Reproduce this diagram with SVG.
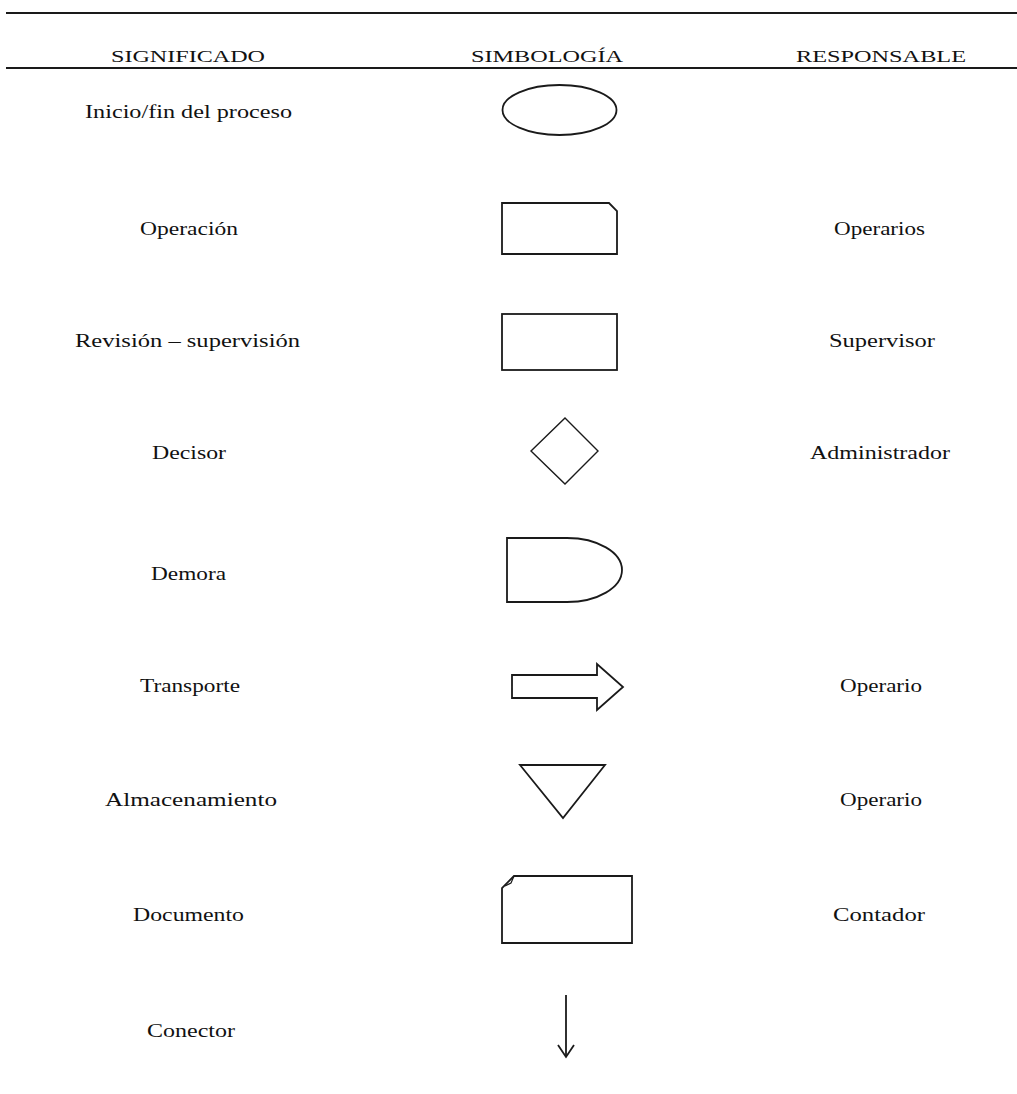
<svg xmlns="http://www.w3.org/2000/svg" width="1017" height="1094" viewBox="0 0 1017 1094">
<style>
.t{font-family:"Liberation Serif","Times New Roman",serif;font-size:18px;fill:#111}
.h{font-family:"Liberation Serif","Times New Roman",serif;font-size:17px;fill:#111}
.s{fill:none;stroke:#1a1a1a;stroke-width:1.8;stroke-linejoin:miter}
.r{stroke:#1a1a1a;stroke-width:2}
</style>
<rect width="1017" height="1094" fill="#fff"/>
<g id="rules">
<line class="r" x1="6" y1="13" x2="1017" y2="13"/>
<line class="r" x1="6" y1="68" x2="1017" y2="68"/>
</g>
<g id="headers">
<text class="h" x="111" y="62" textLength="154" lengthAdjust="spacingAndGlyphs">SIGNIFICADO</text>
<text class="h" x="471" y="62" textLength="152" lengthAdjust="spacingAndGlyphs">SIMBOLOGÍA</text>
<text class="h" x="796" y="62" textLength="170" lengthAdjust="spacingAndGlyphs">RESPONSABLE</text>
</g>
<g id="row-inicio">
<text class="t" x="85" y="118" textLength="207" lengthAdjust="spacingAndGlyphs">Inicio/fin del proceso</text>
<ellipse class="s" cx="559.5" cy="110" rx="57" ry="25"/>
</g>
<g id="row-operacion">
<text class="t" x="140" y="235" textLength="98" lengthAdjust="spacingAndGlyphs">Operación</text>
<path class="s" d="M502,203 H609 L617,211 V254 H502 Z"/>
<text class="t" x="834" y="235" textLength="91" lengthAdjust="spacingAndGlyphs">Operarios</text>
</g>
<g id="row-revision">
<text class="t" x="75" y="347" textLength="225" lengthAdjust="spacingAndGlyphs">Revisión – supervisión</text>
<rect class="s" x="502" y="314" width="115" height="56"/>
<text class="t" x="829" y="347" textLength="106" lengthAdjust="spacingAndGlyphs">Supervisor</text>
</g>
<g id="row-decisor">
<text class="t" x="152" y="459" textLength="74" lengthAdjust="spacingAndGlyphs">Decisor</text>
<polygon class="s" points="565,418 598,451 565,484 531,451" style="stroke-width:1.4"/>
<text class="t" x="810" y="459" textLength="140" lengthAdjust="spacingAndGlyphs">Administrador</text>
</g>
<g id="row-demora">
<text class="t" x="151" y="580" textLength="75" lengthAdjust="spacingAndGlyphs">Demora</text>
<path class="s" d="M567,538 H507 V602 H567 A55,32 0 0 0 567,538 Z"/>
</g>
<g id="row-transporte">
<text class="t" x="140" y="692" textLength="100" lengthAdjust="spacingAndGlyphs">Transporte</text>
<path class="s" d="M512,675 H597 V664 L623,687 L597,710 V698 H512 Z"/>
<text class="t" x="840" y="692" textLength="82" lengthAdjust="spacingAndGlyphs">Operario</text>
</g>
<g id="row-almacenamiento">
<text class="t" x="105" y="806" textLength="172" lengthAdjust="spacingAndGlyphs">Almacenamiento</text>
<polygon class="s" points="520,765 605,765 563,818"/>
<text class="t" x="840" y="806" textLength="82" lengthAdjust="spacingAndGlyphs">Operario</text>
</g>
<g id="row-documento">
<text class="t" x="133" y="921" textLength="111" lengthAdjust="spacingAndGlyphs">Documento</text>
<path class="s" d="M514,876 H632 V943 H502 V888 Z"/>
<path class="s" d="M505,886 L511,883 L514,876" style="stroke-width:1.2"/>
<text class="t" x="833" y="921" textLength="92" lengthAdjust="spacingAndGlyphs">Contador</text>
</g>
<g id="row-conector">
<text class="t" x="147" y="1037" textLength="88" lengthAdjust="spacingAndGlyphs">Conector</text>
</g>
<g id="connectors">
<line class="s" x1="566" y1="995" x2="566" y2="1057"/>
<polyline class="s" points="558,1045 566,1057 574,1045"/>
</g>
</svg>
